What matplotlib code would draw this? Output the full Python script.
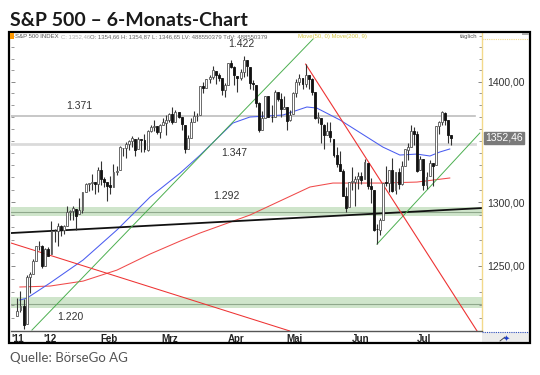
import numpy as np
import pandas as pd
import matplotlib
matplotlib.use("Agg")
import matplotlib.pyplot as plt
from matplotlib.patches import Rectangle
from matplotlib.lines import Line2D
from matplotlib.ticker import FixedLocator, NullFormatter, FixedFormatter

# ---------------- data ----------------
holidays = ['2011-12-26', '2012-01-02', '2012-01-16', '2012-02-20',
            '2012-04-06', '2012-05-28', '2012-07-04']
dates = [d for d in pd.bdate_range('2011-12-15', '2012-07-09')
         if d.strftime('%Y-%m-%d') not in holidays]

opens = [1212.1, 1216.1, 1219.7, 1205.7, 1241.3, 1243.7, 1254.0, 1265.0, 1265.4, 1249.8, 1262.8,
         1258.9, 1277.0, 1277.3, 1280.9, 1277.8, 1280.8, 1292.0, 1292.5, 1294.8, 1290.2, 1293.7, 1308.1, 1314.5, 1315.3, 1316.0, 1314.4, 1326.3, 1318.3, 1316.2, 1313.5,
         1312.5, 1324.2, 1326.2, 1344.3, 1344.3, 1347.0, 1350.0, 1351.2, 1343.1, 1351.3, 1350.5, 1342.6, 1358.1, 1361.2, 1362.1, 1357.5, 1363.5, 1365.2, 1367.6, 1372.2,
         1365.9, 1374.1, 1370.0, 1363.6, 1343.4, 1352.7, 1366.0, 1370.8, 1371.9, 1396.0, 1394.2, 1402.6, 1404.2, 1409.6, 1405.5, 1402.9, 1392.8, 1397.1, 1416.6, 1412.5, 1405.4, 1403.3,
         1408.5, 1419.0, 1413.1, 1398.8, 1397.5, 1382.2, 1359.0, 1368.8, 1387.6, 1370.3, 1369.6, 1390.8, 1385.1, 1377.0, 1378.5, 1367.0, 1372.1, 1390.6, 1400.2, 1403.3,
         1397.9, 1405.5, 1402.3, 1391.5, 1368.8, 1369.2, 1363.2, 1354.6, 1358.1, 1351.9, 1338.4, 1330.8, 1324.8, 1305.1, 1295.7, 1316.1, 1316.0, 1318.7, 1320.8, 1318.9, 1331.3, 1313.1,
         1309.9, 1278.3, 1277.8, 1285.6, 1316.1, 1315.0, 1325.7, 1309.4, 1324.0, 1314.9, 1329.2, 1342.4, 1344.8, 1358.0, 1355.4, 1325.9, 1334.9, 1314.1, 1320.7, 1331.5, 1330.1,
         1362.3, 1365.8, 1373.7, 1367.1, 1354.7]
highs = [1225.6, 1231.0, 1224.6, 1242.8, 1245.1, 1255.2, 1265.4, 1269.4, 1265.9, 1263.5, 1264.1,
         1284.6, 1278.7, 1283.1, 1281.8, 1282.0, 1296.5, 1293.8, 1296.8, 1294.8, 1303.0, 1308.1, 1315.5, 1315.4, 1322.3, 1316.0, 1328.3, 1333.5, 1320.1, 1316.2, 1321.4,
         1330.5, 1329.2, 1345.3, 1344.4, 1349.2, 1351.0, 1354.3, 1351.2, 1353.4, 1351.3, 1355.9, 1359.0, 1363.4, 1367.8, 1362.7, 1364.2, 1368.9, 1371.9, 1373.1, 1378.0,
         1376.2, 1374.5, 1370.0, 1363.6, 1354.9, 1368.7, 1374.8, 1373.0, 1396.0, 1399.4, 1402.6, 1405.9, 1414.0, 1409.6, 1407.8, 1402.9, 1399.2, 1416.6, 1419.2, 1413.7, 1405.4, 1410.9,
         1422.4, 1419.0, 1413.1, 1401.6, 1397.5, 1383.0, 1374.7, 1388.1, 1387.6, 1379.7, 1392.8, 1390.8, 1390.1, 1387.4, 1378.5, 1375.6, 1391.4, 1402.1, 1406.6, 1403.3,
         1415.3, 1405.5, 1403.1, 1391.5, 1373.9, 1369.2, 1363.7, 1365.9, 1365.7, 1351.9, 1344.9, 1341.8, 1326.4, 1312.2, 1316.4, 1328.5, 1320.7, 1324.1, 1324.2, 1334.9, 1331.3, 1319.7,
         1309.9, 1282.6, 1287.6, 1315.1, 1329.1, 1325.8, 1335.5, 1324.3, 1327.3, 1333.7, 1343.3, 1348.2, 1363.5, 1361.6, 1358.3, 1337.8, 1334.9, 1324.2, 1334.4, 1331.5, 1362.2,
         1366.4, 1374.8, 1373.9, 1367.1, 1354.9]
lows = [1212.1, 1215.2, 1202.4, 1205.7, 1229.5, 1243.7, 1254.0, 1262.3, 1248.6, 1249.8, 1257.5,
        1258.9, 1268.1, 1265.3, 1273.3, 1274.6, 1280.8, 1285.4, 1285.8, 1277.6, 1290.2, 1291.0, 1308.1, 1309.2, 1309.9, 1306.1, 1307.7, 1313.6, 1311.7, 1300.5, 1306.7,
        1312.5, 1321.6, 1326.2, 1337.5, 1335.9, 1342.0, 1344.6, 1337.4, 1343.1, 1340.8, 1340.8, 1341.2, 1357.2, 1358.1, 1355.5, 1352.3, 1363.5, 1354.9, 1366.0, 1363.8,
        1365.9, 1368.9, 1359.3, 1340.0, 1343.4, 1352.7, 1366.0, 1366.7, 1371.9, 1390.0, 1394.2, 1398.8, 1402.4, 1397.7, 1400.6, 1388.7, 1386.9, 1397.1, 1412.0, 1397.2, 1391.6, 1401.4,
        1404.5, 1404.6, 1394.1, 1392.9, 1378.2, 1357.4, 1359.0, 1368.8, 1369.9, 1365.4, 1369.6, 1383.3, 1370.3, 1377.0, 1358.8, 1366.8, 1372.1, 1387.3, 1397.0, 1394.0,
        1395.7, 1393.9, 1388.7, 1368.0, 1365.0, 1347.8, 1343.1, 1354.6, 1348.9, 1336.6, 1328.5, 1324.8, 1304.9, 1292.0, 1295.7, 1310.0, 1296.5, 1310.5, 1314.2, 1318.9, 1310.8, 1298.9,
        1277.3, 1266.7, 1274.2, 1285.6, 1312.7, 1307.8, 1307.7, 1306.6, 1310.5, 1314.1, 1329.2, 1334.5, 1344.8, 1346.5, 1324.4, 1325.9, 1309.3, 1310.3, 1320.7, 1313.3, 1330.1,
        1355.7, 1363.5, 1363.0, 1348.0, 1346.7]
closes = [1215.8, 1219.7, 1205.4, 1241.3, 1243.7, 1254.0, 1265.3, 1265.4, 1249.6, 1263.0, 1257.6,
          1277.1, 1277.3, 1281.1, 1277.8, 1280.7, 1292.1, 1292.5, 1295.5, 1289.1, 1293.7, 1308.0, 1314.5, 1315.4, 1316.0, 1314.7, 1326.1, 1318.4, 1316.3, 1313.0, 1312.4,
          1324.1, 1325.5, 1344.9, 1344.3, 1347.1, 1350.0, 1352.0, 1342.6, 1351.8, 1350.5, 1343.2, 1358.0, 1361.2, 1362.2, 1357.7, 1363.5, 1365.7, 1367.6, 1372.2, 1365.7,
          1374.1, 1370.0, 1364.3, 1343.4, 1352.6, 1366.0, 1370.9, 1371.1, 1396.0, 1394.3, 1402.6, 1404.2, 1409.8, 1405.5, 1402.9, 1392.8, 1397.1, 1416.5, 1412.5, 1405.5, 1403.3, 1408.5,
          1419.0, 1413.4, 1399.0, 1398.1, 1382.2, 1358.6, 1368.7, 1387.6, 1370.3, 1369.6, 1390.8, 1385.1, 1376.9, 1378.5, 1366.9, 1372.0, 1390.7, 1400.0, 1403.4, 1397.9,
          1405.8, 1402.3, 1391.6, 1369.1, 1369.6, 1363.7, 1354.6, 1358.0, 1353.4, 1338.4, 1330.7, 1324.8, 1304.9, 1295.2, 1316.0, 1316.6, 1318.9, 1320.7, 1317.8, 1332.4, 1313.3, 1310.3,
          1278.0, 1278.2, 1285.5, 1315.1, 1315.0, 1325.7, 1308.9, 1324.2, 1314.9, 1329.1, 1342.8, 1344.8, 1358.0, 1355.7, 1325.5, 1335.0, 1313.7, 1320.0, 1331.9, 1329.0, 1362.2,
          1365.5, 1374.0, 1367.6, 1354.7, 1352.46]

# moving averages (trading-day index relative to 3 Jan 2012, value)
ma50_idx = [-10.2, -7.9, -0.5, 10.2, 21.1, 31.8, 41.5, 47.9, 58.5, 64.0, 74.7, 82.4, 85.6,
            93.1, 101.8, 106.9, 112.4, 117.9, 122.1, 125.3, 128.5]
ma50_val = [1223.8, 1225.3, 1236.7, 1254.4, 1277.8, 1304.0, 1323.4, 1338.0, 1364.8, 1369.9,
            1371.6, 1378.4, 1377.5, 1367.4, 1353.1, 1344.8, 1338.2, 1339.0, 1337.4, 1340.7, 1343.2]
ma200_idx = [-10.2, -0.5, 10.2, 21.1, 31.8, 41.5, 47.9, 64.0, 83.4, 90.8, 106.9, 117.9, 128.5]
ma200_val = [1233.7, 1234.4, 1238.2, 1246.6, 1259.0, 1269.1, 1275.4, 1289.6, 1312.1, 1315.3,
             1315.3, 1316.1, 1319.4]

# trend lines (index, price) pairs
black_line = ([-13.06, 138.9], [1275.4, 1295.2])
green_line1 = ([-6.3, 84.4], [1201.4, 1437.4])
green_line2 = ([105.0, 138.2], [1266.7, 1356.5])
red_line1 = ([82.0, 137.3], [1415.3, 1200.7])
red_line2 = ([-13.06, 76.9], [1267.6, 1200.7])

hlines_grey = [1371, 1347]
band_levels = [1292, 1221]
band_ranges = [(1288.5, 1296.0), (1218.0, 1226.0)]

level_labels = ['1.422', '1.371', '1.347', '1.292', '1.220']
level_label_idx = [61.1, 8.9, 58.9, 56.5, 6.0]
level_label_val = [1433.0, 1379.0, 1340.0, 1305.0, 1211.0]

month_labels = ["'11", "'12", 'Feb', 'Mrz', 'Apr', 'Mai', 'Jun', 'Jul']
month_pos = [-10.8, -0.5, 18.4, 38.1, 59.4, 78.5, 99.8, 120.3]

yticks = [1250, 1300, 1400]
last_close = 1352.46

# ---------------- figure ----------------
W, H = 540, 375
fig = plt.figure(figsize=(W / 100, H / 100), dpi=100)
fig.patch.set_facecolor('white')

def fx(px):
    return px / W

def fy(py):
    return (H - py) / H

ax = fig.add_axes([fx(11), fy(331), fx(482) - fx(11), fy(33) - fy(331)])
ax.set_yscale('log')
ax.set_ylim(1200.7, 1442.7)
ax.set_xlim(-13.06, 138.9)

i0 = [d.strftime('%Y-%m-%d') for d in dates].index('2012-01-03')
x = np.arange(len(dates)) - i0
o = np.array(opens); h = np.array(highs); l = np.array(lows); c = np.array(closes)

# bands and horizontal lines
for (lo, hi), lev in zip(band_ranges, band_levels):
    ax.axhspan(lo, hi, color='#cfe5cb', lw=0, zorder=1)
    ax.axhline(lev, color='#8fa88c', lw=0.8, zorder=1.5)
ax.axhline(hlines_grey[0], color='#bdbdbd', lw=1.2, zorder=1.5, xmax=0.985)
ax.axhline(hlines_grey[1], color='#dadada', lw=2.0, zorder=1.5, xmax=0.985)

# moving averages
ax.plot(ma200_idx, ma200_val, color='#f04a4a', lw=0.75, zorder=2)
ax.plot(ma50_idx, ma50_val, color='#4a5cf0', lw=0.75, zorder=2)

# trend lines
ax.plot(*black_line, color='#111111', lw=1.3, zorder=2.2)
ax.plot(*green_line1, color='#4caf50', lw=0.7, zorder=2.2)
ax.plot(*green_line2, color='#4caf50', lw=0.7, zorder=2.2)
ax.plot(*red_line1, color='#ee3333', lw=0.8, zorder=2.2)
ax.plot(*red_line2, color='#ee3333', lw=0.75, zorder=2.2)

# candles
up = c >= o
ax.vlines(x, l, h, color='#333333', lw=0.8, zorder=3)
bw = 0.62
ax.bar(x[up], (c - o)[up], bottom=o[up], width=bw, color='white',
       edgecolor='#555555', lw=0.6, zorder=4)
ax.bar(x[~up], (o - c)[~up], bottom=c[~up], width=bw, color='#111111',
       edgecolor='#111111', lw=0.6, zorder=4)

# level labels
for t, xi, yv in zip(level_labels, level_label_idx, level_label_val):
    ax.text(xi, yv, t, fontsize=7.5, color='#333333', ha='center', va='center',
            family='Liberation Sans', zorder=6)

# axes styling
for s in ['left', 'top']:
    ax.spines[s].set_visible(False)
ax.spines['right'].set_color('#f3d98a')
ax.spines['right'].set_linewidth(1.0)
ax.spines['bottom'].set_color('#555555')
ax.spines['bottom'].set_linewidth(1.0)

ax.yaxis.set_major_locator(FixedLocator(yticks))
ax.yaxis.set_major_formatter(FixedFormatter([f"{v},00" for v in yticks]))
ax.yaxis.set_minor_locator(FixedLocator([v for v in range(1210, 1441, 10) if v not in yticks]))
ax.yaxis.set_minor_formatter(NullFormatter())
ax.tick_params(axis='y', which='both', left=True, right=True, labelleft=False,
               labelright=True, direction='in', color='#888888')
ax.tick_params(axis='y', which='major', length=3, width=0.7, pad=4,
               labelsize=7.5, labelcolor='#333333')
ax.tick_params(axis='y', which='minor', length=2, width=0.6)
for lab in ax.get_yticklabels():
    lab.set_family('Liberation Sans')

ax.set_xticks(month_pos)
ax.set_xticklabels(month_labels)
ax.tick_params(axis='x', length=0, pad=2.5, labelsize=7, labelcolor='#222222')
for lab in ax.get_xticklabels():
    lab.set_family('Liberation Sans')
    lab.set_fontweight('bold')

# last price box
ax.annotate(f"{last_close:.2f}".replace('.', ','), xy=(1.0, last_close),
            xycoords=('axes fraction', 'data'), xytext=(2.5, 0),
            textcoords='offset points', ha='left', va='center', fontsize=7.5,
            family='Liberation Sans', color='white', zorder=10,
            bbox=dict(boxstyle='square,pad=0.12', fc='#7a7a7a', ec='#7a7a7a'),
            annotation_clip=False)

# ---------------- frame & decorations ----------------
fig.add_artist(Rectangle((fx(9), fy(343)), fx(530) - fx(9), fy(32) - fy(343),
                         fill=False, ec='black', lw=1.6, transform=fig.transFigure, zorder=20))
fig.add_artist(Rectangle((fx(482), fy(343)), fx(530) - fx(482), fy(332) - fy(343),
                         fc='#ececec', ec='none', transform=fig.transFigure, zorder=5))
fig.add_artist(Line2D([fx(482), fx(530)], [fy(332), fy(332)], color='#3050c0', lw=0.8,
                      ls=(0, (1, 1)), transform=fig.transFigure, zorder=6))
fig.add_artist(Line2D([fx(482), fx(530)], [fy(39), fy(39)], color='#f3d98a', lw=0.8,
                      ls=(0, (1, 1)), transform=fig.transFigure, zorder=6))
fig.add_artist(Line2D([fx(500), fx(505)], [fy(341), fy(337)], color='#333333', lw=0.6,
                      transform=fig.transFigure, zorder=7))
fig.text(fx(506), fy(338), '✦', color='#1a3cc8', fontsize=6, ha='center', va='center',
         family='DejaVu Sans', zorder=7)
fig.add_artist(Rectangle((fx(10), fy(38.5)), fx(14) - fx(10), fy(33) - fy(38.5),
                         fc='#ff9900', ec='none', transform=fig.transFigure, zorder=21))
fig.add_artist(Rectangle((fx(522), fy(35)), fx(529) - fx(522), fy(33) - fy(35),
                         fc='#aaaaaa', ec='none', transform=fig.transFigure, zorder=21))

hdr_y = fy(36.3)
hfs = 4.3
fig.text(fx(15), hdr_y, 'S&P 500 INDEX', fontsize=hfs, color='#555555', va='center',
         family='Liberation Sans')
fig.text(fx(61), hdr_y, 'C: 1352,46', fontsize=hfs, color='#b0b0b0', va='center',
         family='Liberation Sans')
fig.text(fx(90), hdr_y, 'O: 1354,66 H: 1354,87 L: 1346,65 LV: 488550379 TdV: 488550379',
         fontsize=hfs, color='#666666', va='center', family='Liberation Sans')
fig.text(fx(298), hdr_y, 'Move(50, 0) Move(200, 9)', fontsize=hfs, color='#d8c94a',
         va='center', family='Liberation Sans')
fig.text(fx(460), hdr_y, 'täglich', fontsize=hfs, color='#555555', va='center',
         family='Liberation Sans')

# title and source
fig.text(fx(10), fy(26), 'S&P 500 – 6-Monats-Chart', fontsize=14, fontweight='bold',
         color='#1a1a1a', family='Lato', va='baseline')
fig.text(fx(10), fy(361.5), 'Quelle: BörseGo AG', fontsize=9.5, color='#555555',
         family='Lato', fontweight='normal', va='baseline')

fig.savefig('out.png', dpi=100, facecolor='white')
